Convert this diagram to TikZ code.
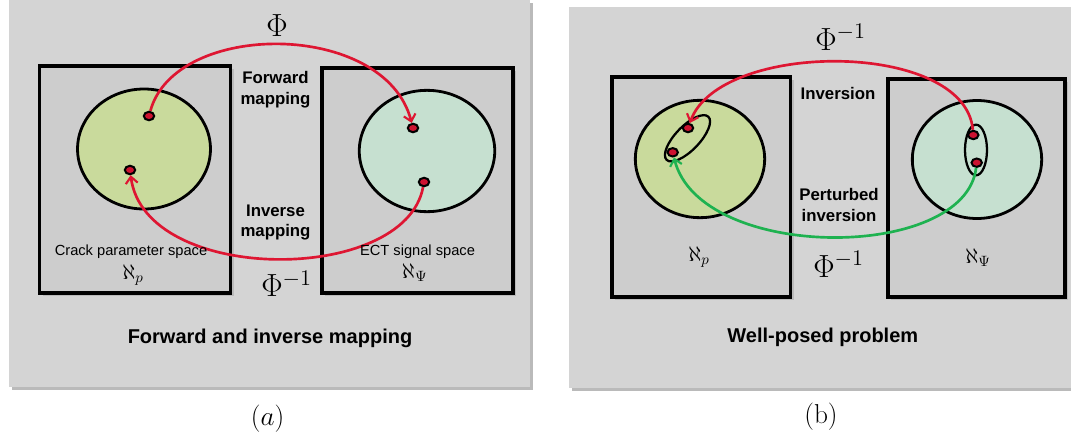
\RequirePackage{fix-cm}
\documentclass[tikz,border=0pt]{standalone}
\usepackage{fontspec}
\newfontfamily\labelfont{Liberation Sans}
\usetikzlibrary{arrows.meta,shapes.geometric}
\definecolor{panelgray}{RGB}{212,212,212}
\definecolor{shadegray}{RGB}{186,186,186}
\definecolor{boxgray}{RGB}{205,205,205}
\definecolor{paramgreen}{RGB}{201,218,156}
\definecolor{signalteal}{RGB}{198,224,208}
\definecolor{maparrow}{RGB}{222,22,50}
\definecolor{pertarrow}{RGB}{30,178,80}
\definecolor{dotred}{RGB}{205,18,48}

\begin{document}
\begin{tikzpicture}[x=0.75pt,y=-0.75pt,
  space/.style={draw=black, line width=2.4pt, fill=boxgray},
  region/.style={ellipse, draw=black, line width=2.1pt, inner sep=0pt},
  cluster/.style={ellipse, draw=black, line width=1.7pt, inner sep=0pt},
  spot/.style={ellipse, draw=black, line width=1.5pt, fill=dotred,
    minimum width=7.8pt, minimum height=6.3pt, inner sep=0pt},
  lbl/.style={font=\labelfont\bfseries\fontsize{12.6}{15.5}\selectfont, align=center, inner sep=0pt},
  small/.style={font=\labelfont\fontsize{11}{13}\selectfont, inner sep=0pt},
  title/.style={font=\labelfont\bfseries\fontsize{15}{18}\selectfont, inner sep=0pt},
  phi/.style={font=\fontsize{24}{28}\selectfont, inner sep=0pt, anchor=base west},
  alef/.style={font=\fontsize{16}{19}\selectfont, inner sep=0pt, anchor=base west},
  capt/.style={font=\fontsize{20.5}{24}\selectfont, inner sep=0pt},
  map/.style={-{Straight Barb[length=5pt,width=9pt,line width=1.6pt]}, line width=2pt, draw=maparrow},
  pert/.style={-{Straight Barb[length=5pt,width=9pt,line width=1.6pt]}, line width=2pt, draw=pertarrow}
]
\useasboundingbox (0,0) rectangle (1071,439);

% (a) forward and inverse mapping
\fill[shadegray] (11.5,3) rectangle (533,390);
\fill[panelgray] (8.6,0) rectangle (530,387);
\fill[shadegray] (42.5,69) rectangle (233.5,296);
\draw[space] (39.6,66) rectangle (230.7,293);
\fill[shadegray] (325,71) rectangle (516,296);
\draw[space] (322,68) rectangle (513,293);

\node[region, fill=paramgreen, minimum width=99.7pt, minimum height=90pt] (pra) at (144,149) {};
\node[region, fill=signalteal, minimum width=101.6pt, minimum height=91pt] (sga) at (427,151) {};
\node[spot] (pa1) at (149,116) {};
\node[spot] (pa2) at (130,170) {};
\node[spot] (sa1) at (413,128) {};
\node[spot] (sa2) at (424,182) {};

\draw[map] (pa1) .. controls (175,20) and (385,20) .. (sa1);
\draw[map] (sa2) .. controls (405,285) and (145,285) .. (pa2);

\node[phi] (phia) at (266,36.7) {$\Phi$};
\node[lbl] (fwd) at (275.5,89.5) {Forward\\mapping};
\node[lbl] (inv) at (275.5,222.5) {Inverse\\mapping};
\node[phi] (phiia) at (261,296.7) {$\Phi^{-1}$};
\node[small] (crack) at (131,252) {Crack parameter space};
\node[alef] (alpa) at (122,279) {$\aleph_p$};
\node[small] (ect) at (417.5,252) {ECT signal space};
\node[alef] (alsa) at (401.7,278.5) {$\aleph_\Psi$};
\node[title] (tia) at (270,338) {Forward and inverse mapping};
\node[capt] (capa) at (267.7,419) {$(a)$};

% (b) well-posed problem
\fill[shadegray] (572,10) rectangle (1071,391);
\fill[panelgray] (569,7) rectangle (1071,388);
\fill[shadegray] (615,80) rectangle (793.5,300);
\draw[space] (612,77) rectangle (790.6,297);
\fill[shadegray] (891,82) rectangle (1068,300);
\draw[space] (888,79) rectangle (1065,297);

\node[region, fill=paramgreen, minimum width=97pt, minimum height=88pt] (prb) at (700,159) {};
\node[region, fill=signalteal, minimum width=97pt, minimum height=88.5pt] (sgb) at (977,159.5) {};
\node[cluster, minimum width=45pt, minimum height=18pt, rotate=46] (clp) at (687.5,138.3) {};
\node[cluster, minimum width=16.5pt, minimum height=38pt] (cls) at (976,150) {};
\node[spot] (pb1) at (688,128) {};
\node[spot] (pb2) at (672.7,152.3) {};
\node[spot] (sb1) at (973.3,135) {};
\node[spot] (sb2) at (976.7,162.7) {};

\draw[map] (sb1) .. controls (965,40) and (720,40) .. (pb1);
\draw[pert] (sb2) .. controls (965,262) and (700,262) .. (pb2);

\node[phi] (phib) at (815,50) {$\Phi^{-1}$};
\node[lbl] (invb) at (838,93) {Inversion};
\node[lbl] (ptb) at (839,205) {Perturbed\\inversion};
\node[phi] (phiib) at (813,277) {$\Phi^{-1}$};
\node[alef] (alpb) at (688,261) {$\aleph_p$};
\node[alef] (alsb) at (965,263) {$\aleph_\Psi$};
\node[title] (tib) at (822.8,337) {Well-posed problem};
\node[capt] (capb) at (821,417) {(b)};
\end{tikzpicture}
\end{document}
